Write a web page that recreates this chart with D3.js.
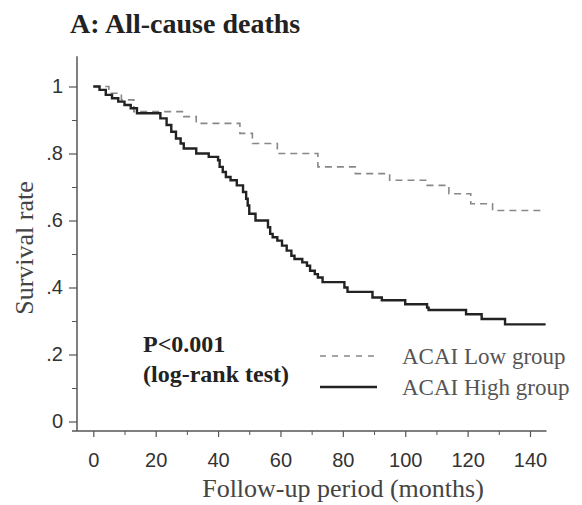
<!DOCTYPE html>
<head>
  <meta charset="utf-8">
  <script src="https://d3js.org/d3.v7.min.js"></script>
  <style>
    body { margin: 0; background: #fff; }
    .serif { font-family: "Liberation Serif", "DejaVu Serif", serif; }
    .tick text { font-family: "Liberation Sans", Arial, sans-serif; font-size: 20px; fill: #333; }
  </style>
</head>

<body>
  <script>

  // ACAI Low group (dashed), step times in months and survival after each step
  var lowTimes = [0, 5, 9, 13, 29, 33, 47, 51, 59, 72, 84, 95, 107, 114, 121, 128, 144];
  var lowSurv  = [1.0, 0.98, 0.96, 0.925, 0.91, 0.89, 0.86, 0.83, 0.80, 0.76, 0.74, 0.72, 0.705, 0.68, 0.65, 0.63, 0.63];

  // ACAI High group (solid)
  var highTimes = [0, 2, 4, 6, 8, 10, 12, 14, 21.5, 23.5, 25, 26.5, 28, 29, 33, 37, 40,
                   40.5, 41.5, 42.5, 44, 46, 48, 49, 49.5, 50, 52, 56, 56.7, 57.5, 59, 60.5,
                   62, 63.5, 64.5, 67, 68.5, 69.5, 71, 72, 73.5, 80.5, 81.5, 89.5, 92.5, 100,
                   107, 107.5, 119.5, 124.5, 132, 145];
  var highSurv  = [1.0, 0.99, 0.975, 0.965, 0.955, 0.945, 0.935, 0.92, 0.905, 0.885, 0.865, 0.845, 0.83, 0.815, 0.80, 0.79, 0.78,
                   0.76, 0.745, 0.73, 0.72, 0.705, 0.685, 0.665, 0.645, 0.62, 0.60, 0.58, 0.56, 0.55, 0.54, 0.525,
                   0.51, 0.495, 0.485, 0.475, 0.465, 0.45, 0.44, 0.43, 0.416, 0.40, 0.387, 0.37, 0.362, 0.35,
                   0.34, 0.333, 0.32, 0.306, 0.29, 0.29];

  var xTicks = [0, 20, 40, 60, 80, 100, 120, 140];
  var xMinor = [10, 30, 50, 70, 90, 110, 130];
  var yTicks = [0, 0.2, 0.4, 0.6, 0.8, 1];
  var yTickLabels = ["0", ".2", ".4", ".6", ".8", "1"];
  var yMinor = [0.1, 0.3, 0.5, 0.7, 0.9];

  var width = 582, height = 505;

  var svg = d3.select("body").append("svg")
      .attr("width", width)
      .attr("height", height);

  var x = d3.scaleLinear().domain([0, 140]).range([93.3, 530]);
  var y = d3.scaleLinear().domain([0, 1]).range([421.5, 86.5]);

  var axisColor = "#555";
  var axisY = 431, axisX = 77;

  // axis lines
  svg.append("line")
      .attr("x1", axisX).attr("x2", axisX)
      .attr("y1", y(1.09)).attr("y2", axisY)
      .attr("stroke", axisColor).attr("stroke-width", 1.5);
  svg.append("line")
      .attr("x1", 72).attr("x2", x(145.3))
      .attr("y1", axisY).attr("y2", axisY)
      .attr("stroke", axisColor).attr("stroke-width", 1.5);

  // y axis
  var yAxis = svg.append("g")
      .attr("transform", "translate(" + axisX + ",0)")
      .call(d3.axisLeft(y).tickValues(yTicks).tickSize(8).tickPadding(6)
        .tickFormat(function(d, i) { return yTickLabels[i]; }));
  yAxis.select(".domain").remove();
  yAxis.selectAll("line").attr("stroke", axisColor).attr("stroke-width", 1.2);

  var yMin = svg.append("g")
      .attr("transform", "translate(" + axisX + ",0)")
      .call(d3.axisLeft(y).tickValues(yMinor).tickSize(5).tickFormat(""));
  yMin.select(".domain").remove();
  yMin.selectAll("line").attr("stroke", axisColor).attr("stroke-width", 1);

  // x axis
  var xAxis = svg.append("g")
      .attr("transform", "translate(0," + axisY + ")")
      .call(d3.axisBottom(x).tickValues(xTicks).tickSize(6).tickPadding(16));
  xAxis.select(".domain").remove();
  xAxis.selectAll("line").attr("stroke", axisColor).attr("stroke-width", 1.2);

  var xMin = svg.append("g")
      .attr("transform", "translate(0," + axisY + ")")
      .call(d3.axisBottom(x).tickValues(xMinor).tickSize(4).tickFormat(""));
  xMin.select(".domain").remove();
  xMin.selectAll("line").attr("stroke", axisColor).attr("stroke-width", 1);

  // survival curves
  var line = d3.line()
      .x(function(d) { return x(d[0]); })
      .y(function(d) { return y(d[1]); })
      .curve(d3.curveStepAfter);

  var lowData = d3.zip(lowTimes, lowSurv);
  var highData = d3.zip(highTimes, highSurv);

  svg.append("path")
      .datum(lowData)
      .attr("fill", "none")
      .attr("stroke", "#888")
      .attr("stroke-width", 1.6)
      .attr("stroke-dasharray", "7 5")
      .attr("d", line);

  svg.append("path")
      .datum(highData)
      .attr("fill", "none")
      .attr("stroke", "#222")
      .attr("stroke-width", 2.4)
      .attr("d", line);

  // titles
  svg.append("text")
      .attr("class", "serif")
      .attr("x", 70).attr("y", 33)
      .style("font-size", "28px").style("font-weight", "bold")
      .attr("fill", "#222")
      .text("A: All-cause deaths");

  svg.append("text")
      .attr("class", "serif")
      .attr("transform", "translate(33,248)rotate(-90)")
      .attr("text-anchor", "middle")
      .style("font-size", "26px")
      .attr("fill", "#444")
      .text("Survival rate");

  svg.append("text")
      .attr("class", "serif")
      .attr("x", 343).attr("y", 497)
      .attr("text-anchor", "middle")
      .style("font-size", "26px")
      .attr("fill", "#444")
      .text("Follow-up period (months)");

  // p-value
  svg.append("text")
      .attr("class", "serif")
      .attr("x", 143).attr("y", 352)
      .style("font-size", "24px").style("font-weight", "bold")
      .attr("fill", "#222")
      .text("P<0.001");
  svg.append("text")
      .attr("class", "serif")
      .attr("x", 143).attr("y", 382)
      .style("font-size", "24px").style("font-weight", "bold")
      .attr("fill", "#222")
      .text("(log-rank test)");

  // legend
  var legend = [
    {label: "ACAI Low group", y: 356, color: "#888", w: 1.6, dash: "6 6"},
    {label: "ACAI High group", y: 387, color: "#222", w: 2.4, dash: null}
  ];
  legend.forEach(function(l) {
    svg.append("line")
        .attr("x1", 320).attr("x2", 377)
        .attr("y1", l.y).attr("y2", l.y)
        .attr("stroke", l.color)
        .attr("stroke-width", l.w)
        .attr("stroke-dasharray", l.dash);
    svg.append("text")
        .attr("class", "serif")
        .attr("x", 402).attr("y", l.y + 8)
        .style("font-size", "23px")
        .attr("fill", "#555")
        .text(l.label);
  });

  </script>

</body>
